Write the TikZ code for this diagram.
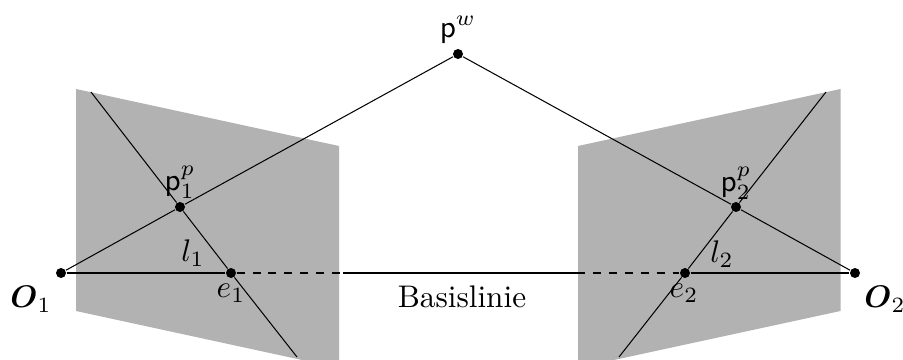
\documentclass[tikz,border=0pt]{standalone}
\usepackage{amsmath,amssymb}
\usepackage{xcolor}
\usetikzlibrary{positioning}

\begin{document}
\begin{tikzpicture}[
    x=0.32pt, y=-0.32pt,
    plane/.style={fill=black!30, draw=none},
    dot/.style={circle, fill=black, inner sep=0pt, minimum size=3.2pt},
    ray/.style={line width=0.33pt},
    dashray/.style={ray, dash pattern=on 2.55pt off 2.55pt},
    label/.style={inner sep=0pt}
]
\useasboundingbox (0,0) rectangle (903,360);
\fill[plane] (76,89) -- (339,146) -- (339,360) -- (302,360) -- (76,311) -- cycle;
\fill[plane] (840.5,89) -- (578,146) -- (578,360) -- (614,360) -- (840.5,311) -- cycle;

\node[dot] (pw) at (458,54) {};
\node[dot] (o1) at (61,273) {};
\node[dot] (o2) at (855,273) {};
\node[dot] (p1) at (180,207) {};
\node[dot] (p2) at (736,207) {};
\node[dot] (e1) at (231,273) {};
\node[dot] (e2) at (685,273) {};
\coordinate (l1top) at (91,92);
\coordinate (l1bot) at (297,357);
\coordinate (l2top) at (826,92);
\coordinate (l2bot) at (619,357);
\coordinate (b1) at (343,273);
\coordinate (b2) at (577,273);

\draw[ray] (o1) -- (p1);
\draw[ray] (p1) -- (pw);
\draw[ray] (pw) -- (p2);
\draw[ray] (p2) -- (o2);
\draw[ray] (o1) -- (e1);
\draw[dashray] (e1) -- (b1);
\draw[ray] (b1) -- (b2);
\draw[dashray] (b2) -- (e2);
\draw[ray] (e2) -- (o2);
\draw[ray] (l1top) -- (p1);
\draw[ray] (p1) -- (e1);
\draw[ray] (e1) -- (l1bot);
\draw[ray] (l2top) -- (p2);
\draw[ray] (p2) -- (e2);
\draw[ray] (e2) -- (l2bot);

\node[label] (pwl) at (458,30) {$\mathsf{p}^w$};
\node[label] (p1l) at (180,182) {$\mathsf{p}_1^p$};
\node[label] (p2l) at (736,183) {$\mathsf{p}_2^p$};
\node[label] (l1l) at (193,253) {$l_1$};
\node[label] (l2l) at (722,254) {$l_2$};
\node[label] (e1l) at (231,293) {$e_1$};
\node[label] (e2l) at (684,293) {$e_2$};
\node[label] (o1l) at (31,299) {$\boldsymbol{O}_1$};
\node[label] (o2l) at (885,299) {$\boldsymbol{O}_2$};
\node[label] (base) at (462,297) {Basislinie};
\end{tikzpicture}
\end{document}
